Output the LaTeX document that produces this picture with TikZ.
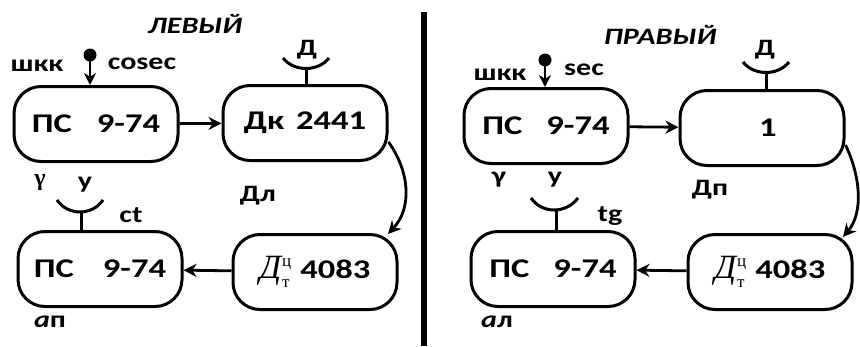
\documentclass[tikz,border=0pt]{standalone}
\usepackage{fontspec}
\setmainfont{Carlito}[FakeStretch=1.28]
\newfontfamily\serifcyr{Liberation Serif}
\usetikzlibrary{arrows.meta,calc,positioning}
\newcommand{\dtc}{{\serifcyr\fontsize{34}{34}\selectfont\mdseries\itshape Д\kern1pt\rlap{\raisebox{-9pt}{\fontsize{17}{17}\selectfont\upshape т}}\raisebox{12pt}{\fontsize{17}{17}\selectfont\upshape ц}}}
\tikzset{
  blk/.style={draw=black,line width=3pt,rounded corners=27pt,minimum width=164pt,
    minimum height=75pt,inner sep=0pt,font=\fontsize{27}{30}\selectfont\bfseries},
  lbl/.style={font=\fontsize{23.5}{26}\selectfont\bfseries,inner sep=0pt},
  ttl/.style={font=\fontsize{23.5}{26}\selectfont\bfseries\itshape,inner sep=0pt},
  flow/.style={-{Stealth[length=13pt,width=13pt]},line width=2.8pt},
  dish/.style={line width=3pt},
  pinhead/.style={fill=black}
}

\begin{document}
\begin{tikzpicture}[x=1pt,y=-1pt]
  \useasboundingbox (0,0) rectangle (860,346);

  % left half
  \node[ttl] (titleL) at (195,24) {ЛЕВЫЙ};
  \node[blk] (psA) at (96,124) {ПС\hspace{25pt}9-74\hspace{32pt}};
  \node[blk] (dkA) at (305,123) {Дк\hspace{12pt}2441\hspace{25pt}};
  \node[blk] (psB) at (100,269) {ПС\hspace{29pt}9-74\hspace{27pt}};
  \node[blk] (dtA) at (315,272) {\dtc\hspace{9pt}4083\hspace{22pt}};

  \node[lbl] (shkA) at (37,66) {шкк};
  \node[lbl] (cosecA) at (142,64) {cosec};
  \coordinate (pinA) at (90,55);
  \fill[pinhead] (pinA) circle (6.5);
  \draw[flow,-{Stealth[length=12pt,width=12pt]}] (pinA) -- (pinA |- psA.north);

  \node[lbl] (dA) at (307,50) {Д};
  \coordinate (dishAl) at (283,58);
  \coordinate (dishAr) at (329,58);
  \coordinate (dishAb) at (306,68.5);
  \draw[dish] (dishAl) .. controls (294,72) and (318,72) .. (dishAr);
  \draw[dish] (dishAb) -- (dishAb |- dkA.north);

  \node[lbl,font=\fontsize{24}{26}\selectfont\serifcyr\bfseries] (gamA) at (40,183) {γ};
  \node[lbl] (uA) at (85,185) {у};
  \coordinate (dishBl) at (57,200);
  \coordinate (dishBr) at (103,200);
  \coordinate (dishBb) at (81,212);
  \draw[dish] (dishBl) .. controls (68,216) and (92,216) .. (dishBr);
  \draw[dish] (dishBb) -- (dishBb |- psB.north);
  \node[lbl] (ctA) at (131,215) {ct};
  \node[lbl] (apA) at (50,322) {\textit{а}п};
  \node[lbl] (dlA) at (258,196) {Дл};

  \draw[flow] (psA) -- (dkA);
  \draw[flow] (dtA) -- (psB);
  \coordinate (outA) at ($(dkA.east)+(0,19)$);
  \coordinate (inA) at (388,234);
  \draw[flow] (outA) .. controls (410,172) and (412,208) .. (inA);

  % divider
  \draw[line width=6pt] (424,12) -- (424,346);

  % right half
  \node[ttl] (titleR) at (660,35) {ПРАВЫЙ};
  \node[blk] (psC) at (546,126) {ПС\hspace{24pt}9-74\hspace{22pt}};
  \node[blk] (oneC) at (762,128) {\hspace{12pt}1};
  \node[blk] (psD) at (553,269) {ПС\hspace{24pt}9-74\hspace{24pt}};
  \node[blk] (dtC) at (770,272) {\dtc\hspace{9pt}4083\hspace{22pt}};

  \node[lbl] (shkC) at (500,75) {шкк};
  \node[lbl] (secC) at (584,70) {sec};
  \coordinate (pinC) at (545,60);
  \fill[pinhead] (pinC) circle (6.5);
  \draw[flow,-{Stealth[length=12pt,width=12pt]}] (pinC) -- (pinC |- psC.north);

  \node[lbl] (dC) at (765,50) {Д};
  \coordinate (dishCl) at (743,62);
  \coordinate (dishCr) at (789,62);
  \coordinate (dishCb) at (766,72.5);
  \draw[dish] (dishCl) .. controls (754,76) and (778,76) .. (dishCr);
  \draw[dish] (dishCb) -- (dishCb |- oneC.north);

  \node[lbl] (gamC) at (499,180) {γ};
  \node[lbl] (uC) at (555,180) {у};
  \coordinate (dishDl) at (531,198);
  \coordinate (dishDr) at (578,198);
  \coordinate (dishDb) at (556,210);
  \draw[dish] (dishDl) .. controls (542,214) and (566,214) .. (dishDr);
  \draw[dish] (dishDb) -- (dishDb |- psD.north);
  \node[lbl] (tgC) at (610,216) {tg};
  \node[lbl] (alC) at (497,322) {\textit{а}л};
  \node[lbl] (dpC) at (710,190) {Дп};

  \draw[flow] (psC) -- (oneC);
  \draw[flow] (dtC) -- (psD);
  \coordinate (outC) at ($(oneC.east)+(0,17)$);
  \coordinate (inC) at (843,237);
  \draw[flow] (outC) .. controls (860,175) and (864,212) .. (inC);
\end{tikzpicture}
\end{document}
